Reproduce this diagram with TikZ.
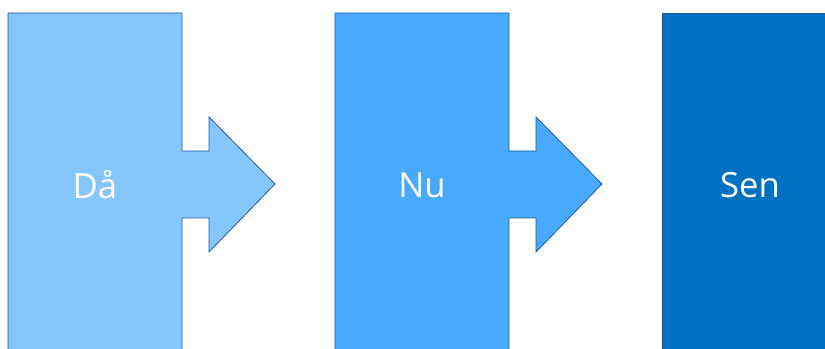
\documentclass[tikz,border=0pt]{standalone}
\usepackage{fontspec}
\setmainfont{Open Sans}
\usepackage{tikz}
\usetikzlibrary{calc}
\definecolor{thenBlue}{RGB}{133,198,255}
\definecolor{nowBlue}{RGB}{71,170,255}
\definecolor{laterBlue}{RGB}{0,112,192}
\definecolor{edgeBlue}{RGB}{31,90,150}
\tikzset{stage/.style={draw=edgeBlue, line width=0.6pt, line join=miter}}
\tikzset{stagetext/.style={text=white, font=\fontsize{26}{30}\selectfont, inner sep=0pt}}

\begin{document}
\begin{tikzpicture}[x=0.75pt, y=-0.75pt]
  \useasboundingbox (0,0) rectangle (825,349);
  \clip (0,0) rectangle (825,349);

  % box with arrow, first
  \filldraw[stage, fill=thenBlue] (8,13) -- (182,13) -- (182,151) -- (209,151) -- (209,117)
    -- (275,184) -- (209,252) -- (209,218) -- (182,218) -- (182,360) -- (8,360) -- cycle;
  % box with arrow, second
  \filldraw[stage, fill=nowBlue] (335,13) -- (509,13) -- (509,151) -- (536,151) -- (536,117)
    -- (602,184) -- (536,252) -- (536,218) -- (509,218) -- (509,360) -- (335,360) -- cycle;
  % last box
  \filldraw[stage, fill=laterBlue] (662,13) rectangle (840,360);

  \node[stagetext] (da) at (95,185) {Då};
  \node[stagetext] (nu) at (422,185) {Nu};
  \node[stagetext] (sen) at (750,185) {Sen};

\end{tikzpicture}
\end{document}
